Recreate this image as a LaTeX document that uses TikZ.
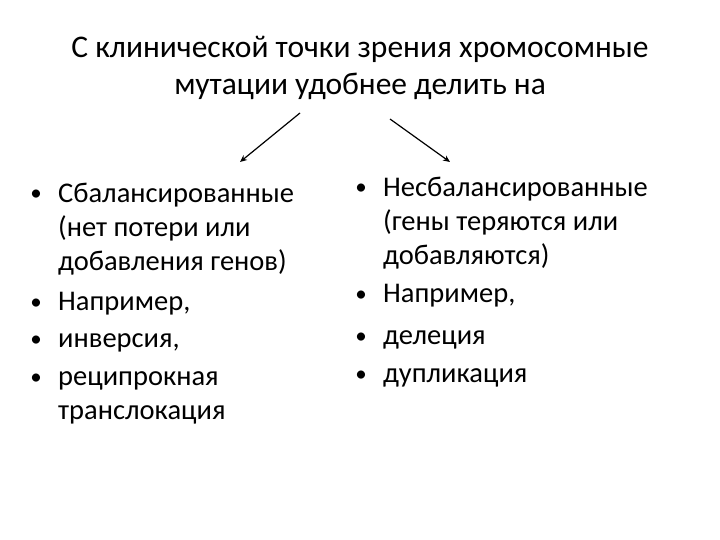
\documentclass[tikz,border=0pt]{standalone}
\usepackage{fontspec}
\setmainfont{Carlito}
\usetikzlibrary{arrows.meta}
\tikzstyle{slide} = [x = 1pt, y = -1pt]
\tikzstyle{titleText} = [font=\fontsize{31.5}{37}\selectfont, align=center, anchor=base, inner sep=0]
\tikzstyle{itemText} = [font=\fontsize{28.5}{34}\selectfont, align=left, anchor=base west, inner sep=0]
\tikzstyle{bulletDot} = [font=\fontsize{23}{34}\selectfont, anchor=base, inner sep=0]
\tikzstyle{splitArrow} = [-{Stealth[length=7pt, width=6pt]}, line width=1.2pt]
% #4 = number of wrapped lines after the first one
\newcommand{\bulletItem}[5]{\node [bulletDot] (#1Dot) at (#2 - 22, #3 - 1) {•}; \node [itemText] (#1) at (#2, #3 + 34 * #4) {#5};}

\begin{document}
\begin{tikzpicture}[slide]
  \useasboundingbox (0,0) rectangle (720,540);
  \node [titleText] (title) at (360, 95) {С клинической точки зрения хромосомные\\мутации удобнее делить на};
  \coordinate (leftFrom) at (300, 113);
  \coordinate (leftTo) at (240, 162);
  \coordinate (rightFrom) at (390, 119);
  \coordinate (rightTo) at (450, 162);
  \draw [splitArrow] (leftFrom) -- (leftTo);
  \draw [splitArrow] (rightFrom) -- (rightTo);
  % left column
  \bulletItem{balanced}{58}{202}{2}{Сбалансированные\\(нет потери или\\добавления генов)}
  \bulletItem{leftExample}{58}{310}{0}{Например,}
  \bulletItem{inversion}{58}{347}{0}{инверсия,}
  \bulletItem{translocation}{58}{385}{1}{реципрокная\\транслокация}
  % right column
  \bulletItem{unbalanced}{383}{196}{2}{Несбалансированные\\(гены теряются или\\добавляются)}
  \bulletItem{rightExample}{383}{302}{0}{Например,}
  \bulletItem{deletion}{383}{344}{0}{делеция}
  \bulletItem{duplication}{383}{382}{0}{дупликация}
\end{tikzpicture}
\end{document}
